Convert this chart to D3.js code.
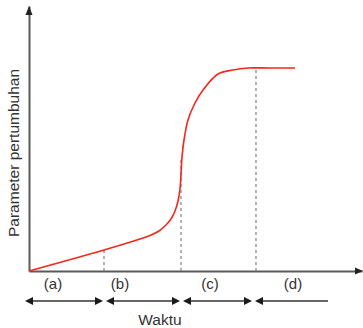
<!DOCTYPE html>
<html><head><meta charset="utf-8">
<script src="https://cdn.jsdelivr.net/npm/d3@7"></script>
<style>body{margin:0;background:#fff;}svg{display:block;font-family:"Liberation Sans",Arial,sans-serif;}</style>
</head><body>
<svg id="c" width="363" height="328"></svg>
<script>
// Curve data (time, parameter) in arbitrary units
const curveTime  = [0, 75, 111, 121, 130, 137, 142, 146, 149, 151, 152, 153, 155, 159, 166, 174, 189, 204, 219, 240, 266];
const curveValue = [0, 21, 32, 35.5, 40, 46, 52, 60, 70, 82, 96, 114, 131, 151, 168, 181, 197, 201, 203, 203, 203];
// Phase boundaries (dashed lines) and their curve heights
const boundaryTime  = [75, 152, 227];
const boundaryValue = [21, 114, 203];
// Phases
const phaseLabels = ["(a)", "(b)", "(c)", "(d)"];
const phaseLabelTime = [24, 91, 181, 264];
const phaseStart = [-4, 77, 154, 226];
const phaseEnd   = [74, 151, 223, 299];
const phaseRightHead = [true, true, true, false];
const xTitle = "Waktu";
const yTitle = "Parameter pertumbuhan";

const svg = d3.select("#c");
const x = d3.scaleLinear().domain([0, 333]).range([29, 362]);
const y = d3.scaleLinear().domain([0, 265]).range([271, 6]);

const axisCol = "#5a5a5a";
const gx = svg.append("g").attr("transform", `translate(0,${y(0)})`)
  .call(d3.axisBottom(x).tickValues([]).tickSizeOuter(0));
gx.select(".domain").attr("stroke", axisCol).attr("stroke-width", 2);
const gy = svg.append("g").attr("transform", `translate(${x(0)},0)`)
  .call(d3.axisLeft(y).tickValues([]).tickSizeOuter(0));
gy.select(".domain").attr("stroke", axisCol).attr("stroke-width", 2);

const xEnd = x.range()[1], yEnd = y.range()[1];
svg.append("path").attr("d", `M${xEnd+1},${y(0)} L${xEnd-7},${y(0)-3.5} L${xEnd-7},${y(0)+3.5} Z`).attr("fill", "#222");
svg.append("path").attr("d", `M${x(0)},${yEnd} L${x(0)-3.5},${yEnd+9} L${x(0)+3.5},${yEnd+9} Z`).attr("fill", "#222");

svg.selectAll("line.b").data(boundaryTime).join("line")
  .attr("x1", d => x(d)).attr("x2", d => x(d))
  .attr("y1", y(0)).attr("y2", (d, i) => y(boundaryValue[i]))
  .attr("stroke", "#8a8a8a").attr("stroke-width", 1.3).attr("stroke-dasharray", "3,3");

const pts = curveTime.map((t, i) => [t, curveValue[i]]);
svg.append("path").datum(pts)
  .attr("d", d3.line().x(d => x(d[0])).y(d => y(d[1])).curve(d3.curveCatmullRom.alpha(0.5)))
  .attr("fill", "none").attr("stroke", "#f5261b").attr("stroke-width", 1.6);

svg.selectAll("text.p").data(phaseLabels).join("text")
  .attr("x", (d, i) => x(phaseLabelTime[i])).attr("y", 289)
  .attr("text-anchor", "middle").attr("font-size", 15).attr("fill", "#333").text(d => d);

const ay = 301;
phaseLabels.forEach((d, i) => {
  const x1 = x(phaseStart[i]), x2 = x(phaseEnd[i]);
  svg.append("line").attr("x1", x1 + 4).attr("x2", phaseRightHead[i] ? x2 - 4 : x2)
    .attr("y1", ay).attr("y2", ay).attr("stroke", "#333").attr("stroke-width", 1.6);
  svg.append("path").attr("d", `M${x1},${ay} L${x1+8},${ay-4} L${x1+8},${ay+4} Z`).attr("fill", "#1a1a1a");
  if (phaseRightHead[i])
    svg.append("path").attr("d", `M${x2},${ay} L${x2-8},${ay-4} L${x2-8},${ay+4} Z`).attr("fill", "#1a1a1a");
});

svg.append("text").attr("x", 160).attr("y", 325).attr("text-anchor", "middle")
  .attr("font-size", 15.5).attr("fill", "#333").text(xTitle);
svg.append("text").attr("transform", "translate(19,153) rotate(-90)").attr("text-anchor", "middle")
  .attr("font-size", 15.5).attr("fill", "#333").text(yTitle);
</script>
</body></html>
